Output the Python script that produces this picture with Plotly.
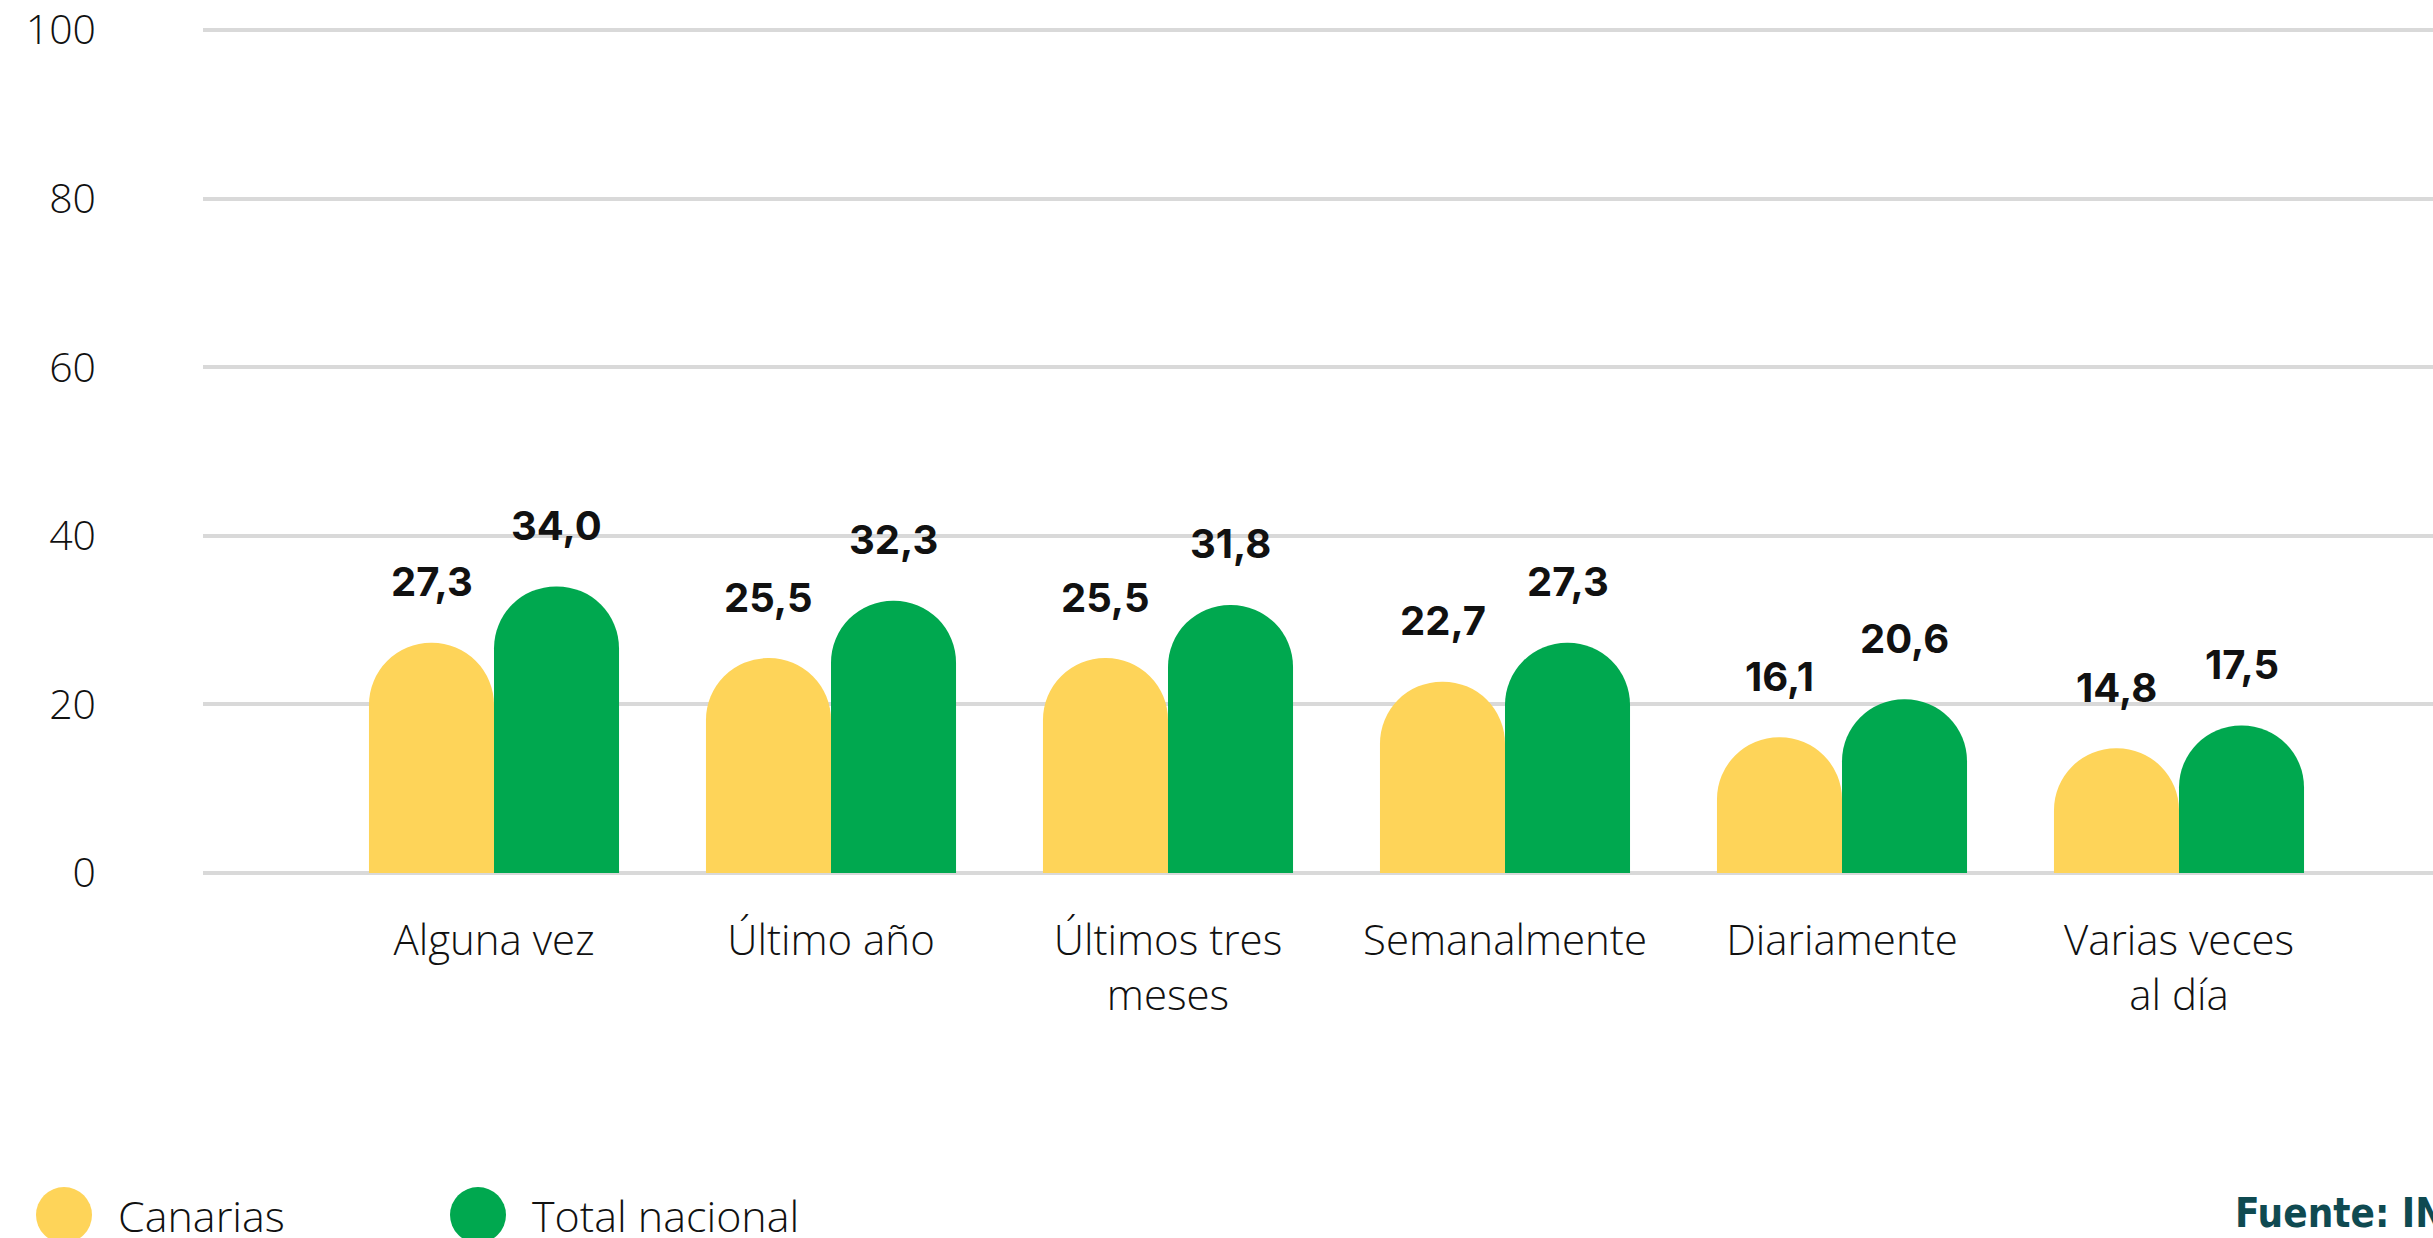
import plotly.graph_objects as go

# Frecuencia de consumo: Canarias vs. total nacional (%)
categorias = ["Alguna vez", "Último año", "Últimos tres<br>meses",
              "Semanalmente", "Diariamente", "Varias veces<br>al día"]
canarias = [27.3, 25.5, 25.5, 22.7, 16.1, 14.8]
total_nacional = [34.0, 32.3, 31.8, 27.3, 20.6, 17.5]
series_nombres = ["Canarias", "Total nacional"]
y_ticks = [0, 20, 40, 60, 80, 100]

AMARILLO = "#FED459"
VERDE = "#00A84F"
GRIS = "#D9D9D9"

W, H = 2433, 1238
M_L, M_R, M_T, M_B = 203, 0, 22, 357
PLOT_W = W - M_L - M_R
PLOT_H = H - M_T - M_B

FONT_LIGHT = dict(family="'Open Sans', Roboto, sans-serif", size=42, color="#111111", weight=300)
FONT_BOLD = dict(family="Inter, Roboto, sans-serif", size=40, color="#111111", weight=700)


def paper_x(px):
    return (px - M_L) / PLOT_W


def paper_y(py):
    return (H - M_B - py) / PLOT_H


fig = go.Figure()
fig.add_trace(go.Bar(x=categorias, y=canarias, name=series_nombres[0],
                     marker=dict(color=AMARILLO, cornerradius="50%", line=dict(width=0))))
fig.add_trace(go.Bar(x=categorias, y=total_nacional, name=series_nombres[1],
                     marker=dict(color=VERDE, cornerradius="50%", line=dict(width=0))))

# Etiquetas de valor sobre cada barra (coma decimal)
bar_half = 62.5
for serie, shift in ((canarias, -bar_half), (total_nacional, bar_half)):
    for cat, v in zip(categorias, serie):
        fig.add_annotation(x=cat, y=v, xref="x", yref="y", xshift=shift, yshift=61,
                           text=f"{v:.1f}".replace(".", ","), showarrow=False,
                           xanchor="center", yanchor="middle", font=FONT_BOLD)

# Leyenda con círculos grandes
leyenda = [(series_nombres[0], AMARILLO, 64), (series_nombres[1], VERDE, 478)]
for nombre, color, cx in leyenda:
    cy = 1215
    r = 28
    fig.add_shape(type="circle", xref="paper", yref="paper",
                  x0=paper_x(cx - r), x1=paper_x(cx + r),
                  y0=paper_y(cy + r), y1=paper_y(cy - r),
                  fillcolor=color, line=dict(width=0), layer="above")
    fig.add_annotation(x=paper_x(cx + 52), y=paper_y(cy), xref="paper", yref="paper",
                       text=nombre, showarrow=False, xanchor="left", yanchor="middle",
                       font=dict(FONT_LIGHT, size=43))

# Fuente
fig.add_annotation(x=paper_x(2233), y=paper_y(1213), xref="paper", yref="paper",
                   text="Fuente: INE", showarrow=False, xanchor="left", yanchor="middle",
                   font=dict(family="'DejaVu Sans Condensed', 'Liberation Sans Narrow', sans-serif",
                             size=40, color="#0F4A51", weight=700))

px_per_unit = 8.43
y_lo = -(H - M_B - 873) / px_per_unit
y_hi = 100 + (30 - M_T) / px_per_unit
cat_px = 337
x_lo = (M_L - 494) / cat_px
x_hi = x_lo + PLOT_W / cat_px

fig.update_layout(
    width=W, height=H,
    margin=dict(l=M_L, r=M_R, t=M_T, b=M_B, autoexpand=False),
    paper_bgcolor="white", plot_bgcolor="white",
    barmode="group", bargap=0.258, bargroupgap=0,
    showlegend=False,
    font=FONT_LIGHT,
)
fig.update_xaxes(range=[x_lo, x_hi], showgrid=False, zeroline=False, showline=False,
                 ticks="", tickfont=FONT_LIGHT, ticklabelstandoff=31, fixedrange=True)
fig.update_yaxes(range=[y_lo, y_hi], tickvals=y_ticks, showgrid=True, gridcolor=GRIS,
                 gridwidth=4, zeroline=False, showline=False, ticks="",
                 tickfont=dict(FONT_LIGHT, size=41), ticklabelstandoff=106, fixedrange=True)

fig.write_html("out.html")
